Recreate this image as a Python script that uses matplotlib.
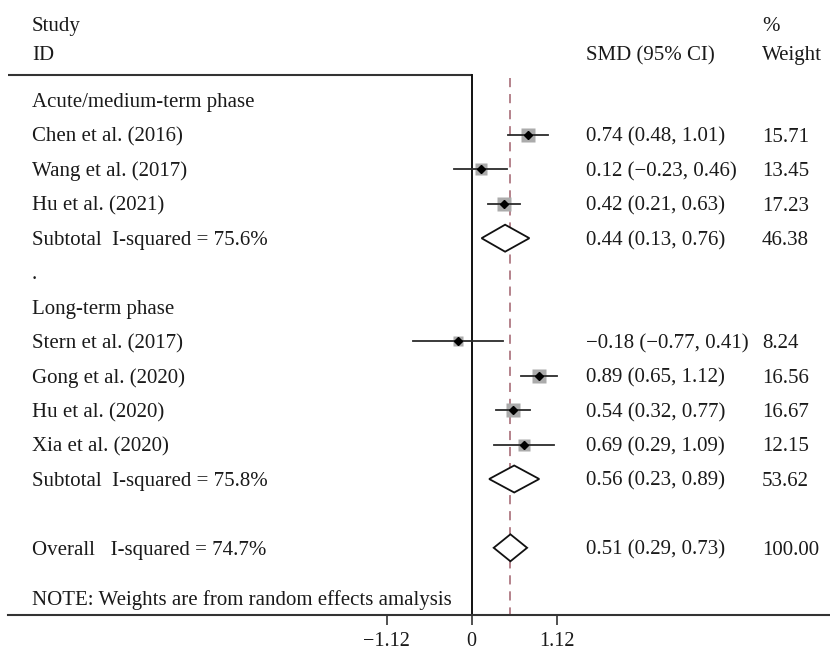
import matplotlib
matplotlib.use("Agg")
import matplotlib.pyplot as plt
import matplotlib.transforms as mtransforms
from matplotlib.patches import Polygon
import numpy as np

plt.rcParams["font.family"] = ["Liberation Serif", "DejaVu Serif"]

# ---- data -------------------------------------------------------------
acute_studies = ["Chen et al. (2016)", "Wang et al. (2017)", "Hu et al. (2021)"]
acute_smd = [0.74, 0.12, 0.42]
acute_lo = [0.48, -0.23, 0.21]
acute_hi = [1.01, 0.46, 0.63]
acute_weight = [15.71, 13.45, 17.23]
acute_sub = (0.44, 0.13, 0.76, 46.38, 75.6)

long_studies = ["Stern et al. (2017)", "Gong et al. (2020)", "Hu et al. (2020)", "Xia et al. (2020)"]
long_smd = [-0.18, 0.89, 0.54, 0.69]
long_lo = [-0.77, 0.65, 0.32, 0.29]
long_hi = [0.41, 1.12, 0.77, 1.09]
long_weight = [8.24, 16.56, 16.67, 12.15]
long_sub = (0.56, 0.23, 0.89, 53.62, 75.8)

overall = (0.51, 0.29, 0.73, 100.00, 74.7)

tick_values = [-1.12, 0, 1.12]
tick_labels = ["\u22121.12", "0", "1.12"]

# ---- layout (pixels of an 830 x 652 canvas) --------------------------
W, H = 830, 652
ROW0, ROWSTEP = 100.6, 34.4          # y pixel of first row, row spacing
X0, XSCALE = 471.7, 85 / 1.12        # pixel of zero effect, px per unit

def row_of(py):
    return (py - ROW0) / ROWSTEP

def xval_of(px):
    return (px - X0) / XSCALE

FS = 15
CAP_HALF = 6.8                       # half cap height in px at FS
TXT = "#1a1a1a"
COL_LABEL, COL_SMD, COL_W = 32, 586, 762

fig = plt.figure(figsize=(W / 100, H / 100), dpi=100)
ax = fig.add_axes([0, 0, 1, 1])
ax.set_xlim(xval_of(0), xval_of(W))
ax.set_ylim(row_of(H), row_of(0))
for s in ["top", "left", "right"]:
    ax.spines[s].set_visible(False)
ax.set_yticks([])

tr = mtransforms.blended_transform_factory(ax.transAxes, ax.transData)

def col_text(px, row, s):
    # row is the vertical centre of the capitals; text sits on its baseline
    ax.text(px / W, row + CAP_HALF / ROWSTEP, s, transform=tr, fontsize=FS,
            color=TXT, ha="left", va="baseline")

def fmt(v):
    return f"{v:.2f}".replace("-", "\u2212")

def ci_text(e, l, h):
    return f"{fmt(e)} ({fmt(l)}, {fmt(h)})"

# headers
col_text(COL_LABEL, row_of(24.5), "Study")
col_text(COL_LABEL, row_of(53.5), "ID")
col_text(COL_SMD, row_of(53.5), "SMD (95% CI)")
col_text(COL_W, row_of(24.5), "%")
col_text(COL_W, row_of(53.5), "Weight")

top_y = row_of(75)
bot_y = row_of(615)

# frame lines
ax.plot([xval_of(8), 0], [top_y, top_y], color="#333333", lw=1.5, solid_capstyle="butt")
ax.plot([0, 0], [top_y, bot_y], color="#111111", lw=1.4)
ax.plot([overall[0], overall[0]], [row_of(78), bot_y], color="#a0606c", lw=1.1,
        dashes=(6, 4.5))

BOX_K = 3.44  # px per sqrt(weight)

def study_row(row, name, e, l, h, w):
    col_text(COL_LABEL, row, name)
    side_px = BOX_K * np.sqrt(w)
    ax.plot([e], [row], marker="s", ms=side_px * 0.72, color="#ababab",
            mec="none", zorder=2)
    ax.plot([l, h], [row, row], color="#2b2b2b", lw=1.3, zorder=3)
    ax.plot([e], [row], marker="D", ms=4.4, color="black", zorder=4)
    col_text(COL_SMD, row, ci_text(e, l, h))
    col_text(COL_W, row, f"{w:.2f}")

def diamond_row(row, label, stats):
    e, l, h, w, i2 = stats
    col_text(COL_LABEL, row, label.format(i2=i2))
    half = 13.5 / ROWSTEP
    poly = Polygon([[l, row], [e, row - half], [h, row], [e, row + half]],
                   closed=True, facecolor="white", edgecolor="#111111",
                   lw=1.3, zorder=3)
    ax.add_patch(poly)
    col_text(COL_SMD, row, ci_text(e, l, h))
    col_text(COL_W, row, f"{w:.2f}")

col_text(COL_LABEL, 0, "Acute/medium-term phase")
for i, args in enumerate(zip(acute_studies, acute_smd, acute_lo, acute_hi, acute_weight)):
    study_row(1 + i, *args)
diamond_row(4, "Subtotal  I-squared = {i2:.1f}%", acute_sub)
col_text(COL_LABEL, 5, ".")

col_text(COL_LABEL, 6, "Long-term phase")
for i, args in enumerate(zip(long_studies, long_smd, long_lo, long_hi, long_weight)):
    study_row(7 + i, *args)
diamond_row(11, "Subtotal  I-squared = {i2:.1f}%", long_sub)

diamond_row(13, "Overall   I-squared = {i2:.1f}%", overall)

col_text(COL_LABEL, row_of(598), "NOTE: Weights are from random effects amalysis")

# bottom axis
sp = ax.spines["bottom"]
sp.set_position(("data", bot_y))
sp.set_bounds(xval_of(8), xval_of(W))
sp.set_color("#333333")
sp.set_linewidth(1.5)
ax.set_xticks(tick_values)
ax.set_xticklabels(tick_labels)
ax.tick_params(axis="x", direction="out", length=7.5, width=1.2, color="#333333",
               labelsize=14.5, labelcolor=TXT, pad=5)

fig.savefig("out.png", dpi=100)
